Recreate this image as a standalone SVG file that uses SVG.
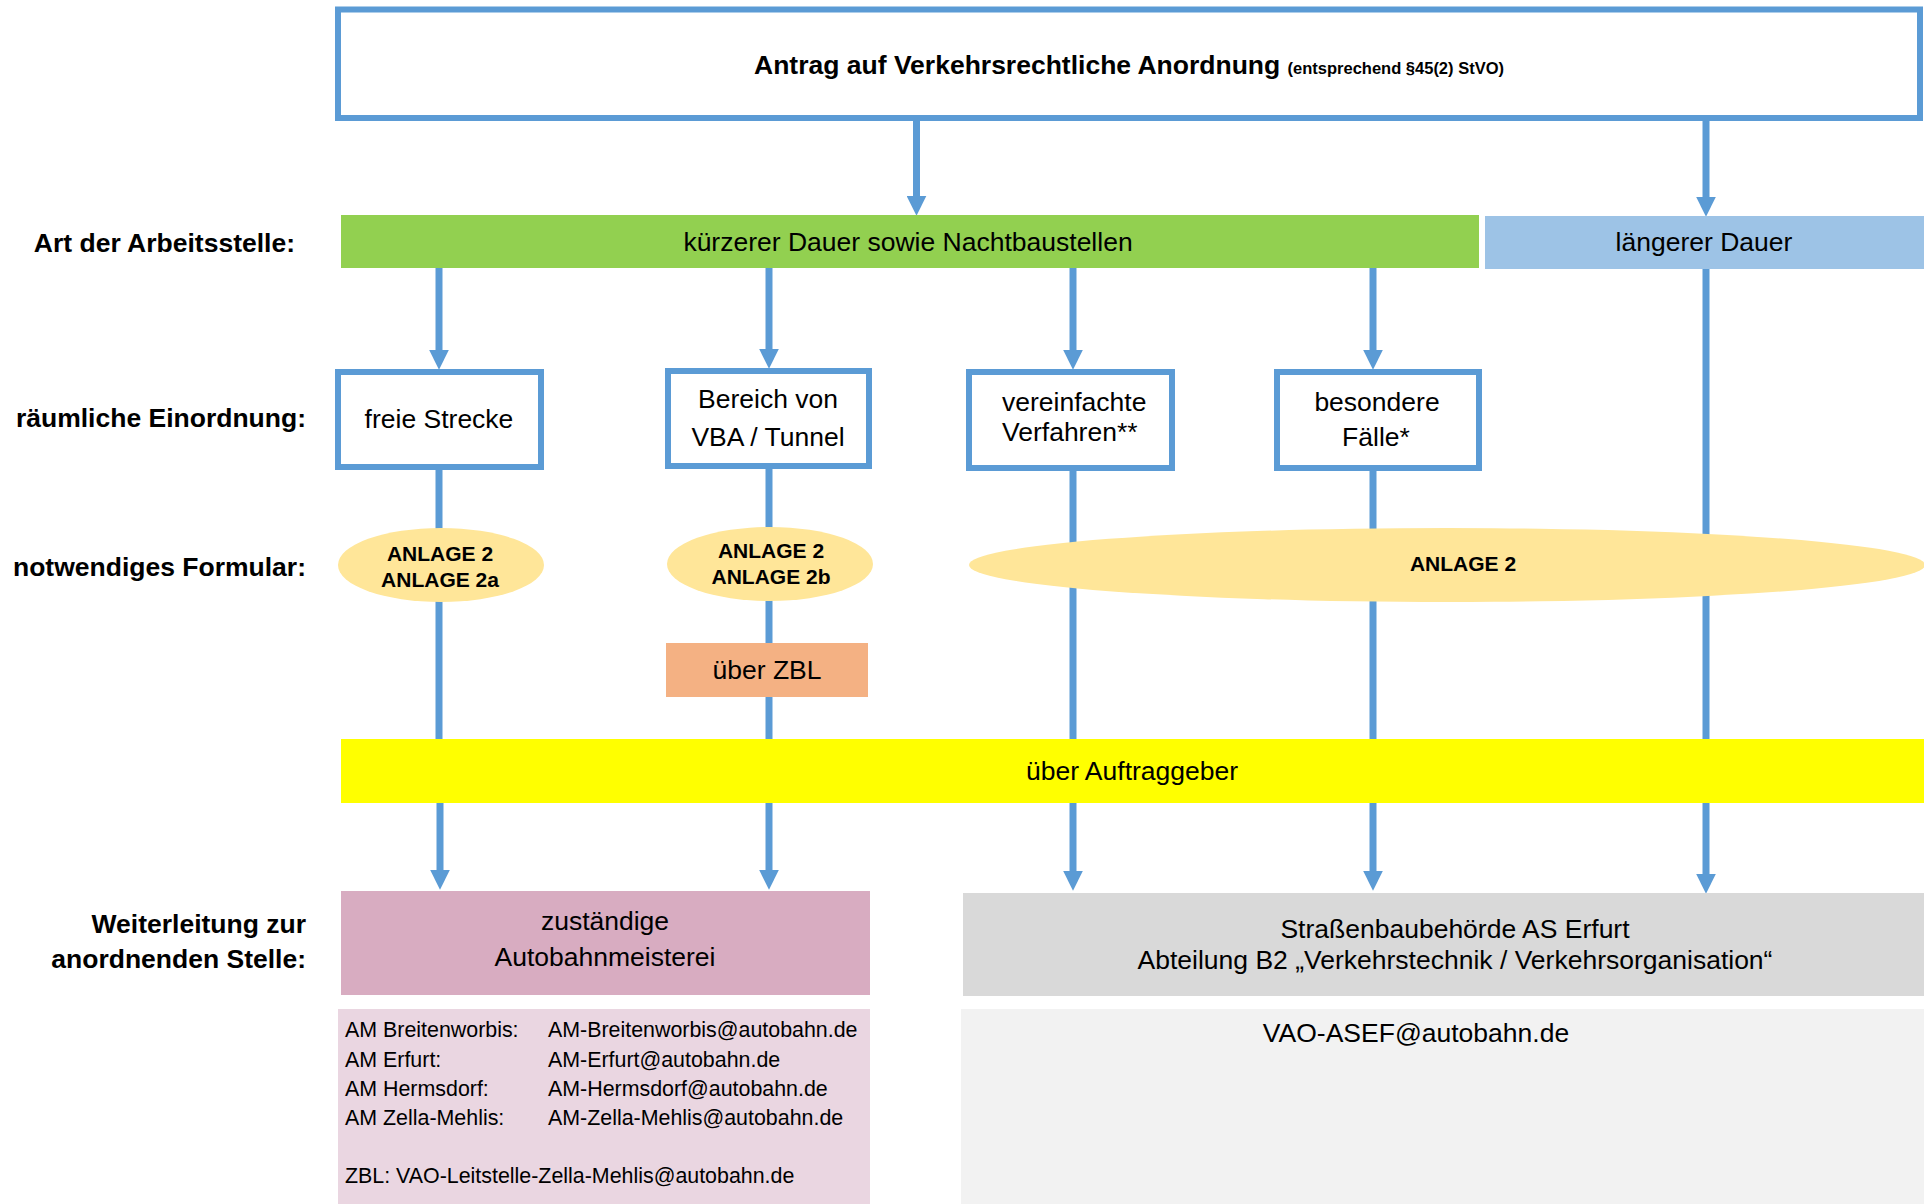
<svg xmlns="http://www.w3.org/2000/svg" width="1924" height="1204" viewBox="0 0 1924 1204">
<defs>
<marker id="arr" markerUnits="userSpaceOnUse" markerWidth="20" markerHeight="20" viewBox="0 0 19 19" refX="7" refY="9.5" orient="auto">
<path d="M0,0 L19,9.5 L0,19 Z" fill="#5B9BD5"/>
</marker>
<style>
text{font-family:"Liberation Sans",Arial,sans-serif;fill:#000}
.t{font-size:26.5px}
.b{font-weight:bold}
.lbl{font-size:26.5px;font-weight:bold;text-anchor:end}
.c{text-anchor:middle}
.an{font-size:21px;font-weight:bold;text-anchor:middle}
.em{font-size:21.4px}
.box{fill:#fff;stroke:#5B9BD5;stroke-width:6}
.con{stroke:#5B9BD5;stroke-width:7;fill:none}
.ell{fill:#FFE699}
</style>
</defs>
<rect width="1924" height="1204" fill="#fff"/>

<g id="labels">
<text class="lbl" x="295" y="252">Art der Arbeitsstelle:</text>
<text class="lbl" x="306" y="427">räumliche Einordnung:</text>
<text class="lbl" x="306" y="576">notwendiges Formular:</text>
<text class="lbl" x="306" y="933">Weiterleitung zur</text>
<text class="lbl" x="306" y="968">anordnenden Stelle:</text>
</g>

<g id="connectors">
<path class="con" d="M916.5,121 V203" marker-end="url(#arr)"/>
<path class="con" d="M1706,121 V204" marker-end="url(#arr)"/>
<path class="con" d="M439,268 V357" marker-end="url(#arr)"/>
<path class="con" d="M769,268 V356" marker-end="url(#arr)"/>
<path class="con" d="M1073,268 V357" marker-end="url(#arr)"/>
<path class="con" d="M1373,268 V357" marker-end="url(#arr)"/>
<path class="con" d="M439,470 V740"/>
<path class="con" d="M769,469 V644"/>
<path class="con" d="M769,696 V740"/>
<path class="con" d="M1073,471 V740"/>
<path class="con" d="M1373,471 V740"/>
<path class="con" d="M1706,269 V740"/>
<path class="con" d="M440,803 V877" marker-end="url(#arr)"/>
<path class="con" d="M769,803 V877" marker-end="url(#arr)"/>
<path class="con" d="M1073,803 V878" marker-end="url(#arr)"/>
<path class="con" d="M1373,803 V878" marker-end="url(#arr)"/>
<path class="con" d="M1706,803 V881" marker-end="url(#arr)"/>
</g>

<g id="antrag">
<rect class="box" x="338" y="9.5" width="1582" height="108.5"/>
<text class="t b c" x="1129" y="74">Antrag auf Verkehrsrechtliche Anordnung <tspan font-size="16.5px">(entsprechend §45(2) StVO)</tspan></text>
</g>

<g id="kurz">
<rect x="341" y="215" width="1138" height="53" fill="#92D050"/>
<text class="t c" x="908" y="251">kürzerer Dauer sowie Nachtbaustellen</text>
</g>

<g id="lang">
<rect x="1485" y="216" width="439" height="53" fill="#9DC3E6"/>
<text class="t c" x="1704" y="251">längerer Dauer</text>
</g>

<g id="freie">
<rect class="box" x="338" y="372" width="203" height="95"/>
<text class="t c" x="439" y="428">freie Strecke</text>
</g>

<g id="bereich">
<rect class="box" x="668" y="371" width="201" height="95"/>
<text class="t c" x="768" y="408">Bereich von</text>
<text class="t c" x="768" y="446">VBA / Tunnel</text>
</g>

<g id="vereinfacht">
<rect class="box" x="969" y="372" width="203" height="96"/>
<text class="t" x="1002" y="411">vereinfachte</text>
<text class="t" x="1002" y="441">Verfahren**</text>
</g>

<g id="besondere">
<rect class="box" x="1277" y="372" width="202" height="96"/>
<text class="t c" x="1377" y="411">besondere</text>
<text class="t c" x="1376" y="446">Fälle*</text>
</g>

<g id="anlage2a">
<ellipse class="ell" cx="441" cy="565" rx="103" ry="37"/>
<text class="an" x="440" y="561">ANLAGE 2</text>
<text class="an" x="440" y="587">ANLAGE 2a</text>
</g>

<g id="anlage2b">
<ellipse class="ell" cx="770" cy="564" rx="103" ry="37"/>
<text class="an" x="771" y="558">ANLAGE 2</text>
<text class="an" x="771" y="584">ANLAGE 2b</text>
</g>

<g id="anlage2">
<ellipse class="ell" cx="1447" cy="565" rx="478" ry="37"/>
<text class="an" x="1463" y="571">ANLAGE 2</text>
</g>

<g id="zbl">
<rect x="666" y="643" width="202" height="54" fill="#F4B183"/>
<text class="t c" x="767" y="679">über ZBL</text>
</g>

<g id="auftraggeber">
<rect x="341" y="739" width="1583" height="64" fill="#FFFF00"/>
<text class="t c" x="1132" y="780">über Auftraggeber</text>
</g>

<g id="autobahnmeisterei">
<rect x="341" y="891" width="529" height="104" fill="#D8ACC1"/>
<text class="t c" x="605" y="930">zuständige</text>
<text class="t c" x="605" y="966">Autobahnmeisterei</text>
</g>

<g id="strassenbau">
<rect x="963" y="893" width="961" height="103" fill="#D9D9D9"/>
<text class="t c" x="1455" y="938">Straßenbaubehörde AS Erfurt</text>
<text class="t c" x="1455" y="969">Abteilung B2 „Verkehrstechnik / Verkehrsorganisation“</text>
</g>

<g id="am-kontakte">
<rect x="338" y="1009" width="532" height="195" fill="#EAD6E1"/>
<text class="em" x="345" y="1037">AM Breitenworbis:</text>
<text class="em" x="345" y="1066.5">AM Erfurt:</text>
<text class="em" x="345" y="1096">AM Hermsdorf:</text>
<text class="em" x="345" y="1125">AM Zella-Mehlis:</text>
<text class="em" x="548" y="1037">AM-Breitenworbis@autobahn.de</text>
<text class="em" x="548" y="1066.5">AM-Erfurt@autobahn.de</text>
<text class="em" x="548" y="1096">AM-Hermsdorf@autobahn.de</text>
<text class="em" x="548" y="1125">AM-Zella-Mehlis@autobahn.de</text>
<text class="em" x="345" y="1183">ZBL: VAO-Leitstelle-Zella-Mehlis@autobahn.de</text>
</g>

<g id="asef-kontakt">
<rect x="961" y="1009" width="963" height="195" fill="#F2F2F2"/>
<text class="t c" x="1416" y="1042">VAO-ASEF@autobahn.de</text>
</g>
</svg>
